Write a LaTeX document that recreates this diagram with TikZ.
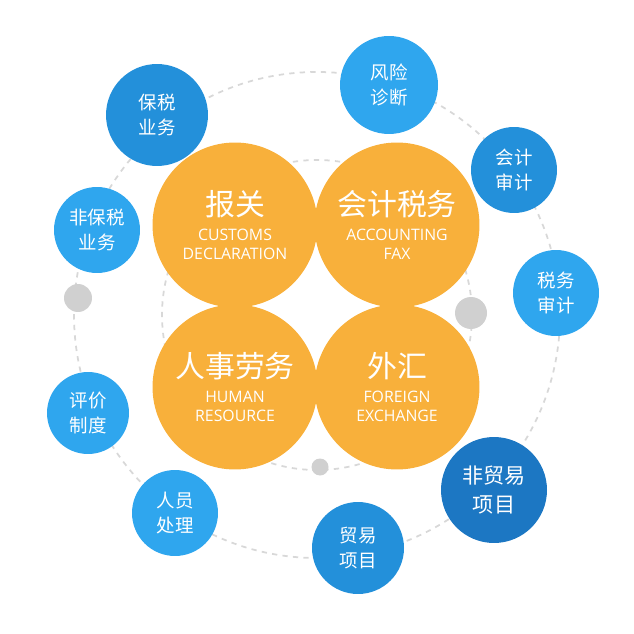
\documentclass[tikz,border=0pt]{standalone}
\usepackage{fontspec}
\setmainfont{Noto Sans CJK SC}
\newfontfamily\latin{Open Sans}
\definecolor{orangefill}{HTML}{F8B03B}
\definecolor{bluelight}{HTML}{2FA6EE}
\definecolor{bluemid}{HTML}{2390DA}
\definecolor{bluedark}{HTML}{1C77C3}
\definecolor{dashgray}{HTML}{D8D8D8}
\definecolor{dotgray}{HTML}{D0D0D0}
\tikzset{
  bigball/.style={circle, fill=orangefill, minimum size=3.3cm, text=white, align=center, inner sep=0pt},
  smallball/.style={circle, minimum size=#1, text=white, align=center, inner sep=0pt, font=\fontsize{10.5}{14}\selectfont},
  graydot/.style={circle, fill=dotgray, minimum size=#1, inner sep=0pt},
  ring/.style={dashgray, dashed, line width=1pt}
}
\newcommand{\cn}[1]{{\fontsize{17}{20}\selectfont #1}}
\newcommand{\en}[1]{{\latin\fontsize{9}{11}\selectfont #1}}
\begin{document}
\begin{tikzpicture}[x=0.02cm, y=-0.02cm]
\useasboundingbox (0,0) rectangle (634,634);

% dashed rings
\draw[ring] (317,315) circle (243);
\draw[ring] (317,315) circle (155);

% gray dots on the rings
\node[graydot=0.56cm] (dotleft) at (78,298) {};
\node[graydot=0.64cm] (dotright) at (471,313) {};
\node[graydot=0.34cm] (dotbottom) at (320,467) {};

% the four main circles
\node[bigball] (customs) at (235,225) {\cn{报关}\\[2pt]\en{CUSTOMS}\\[-1pt]\en{DECLARATION}};
\node[bigball] (account) at (397,225) {\cn{会计税务}\\[2pt]\en{ACCOUNTING}\\[-1pt]\en{FAX}};
\node[bigball] (human) at (235,387) {\cn{人事劳务}\\[2pt]\en{HUMAN}\\[-1pt]\en{RESOURCE}};
\node[bigball] (foreign) at (397,387) {\cn{外汇}\\[2pt]\en{FOREIGN}\\[-1pt]\en{EXCHANGE}};

% outer small circles
\node[smallball=1.96cm, fill=bluelight] (risk) at (389,85) {风险\\诊断};
\node[smallball=1.72cm, fill=bluemid] (audit) at (514,170) {会计\\审计};
\node[smallball=1.72cm, fill=bluelight] (taxaudit) at (556,293) {税务\\审计};
\node[smallball=2.12cm, fill=bluedark, font=\fontsize{12}{16}\selectfont] (nontrade) at (494,490) {非贸易\\项目};
\node[smallball=1.84cm, fill=bluemid] (trade) at (358,548) {贸易\\项目};
\node[smallball=1.72cm, fill=bluelight] (staff) at (175,513) {人员\\处理};
\node[smallball=1.64cm, fill=bluelight] (rating) at (88,413) {评价\\制度};
\node[smallball=1.72cm, fill=bluelight] (nonbond) at (97,230) {非保税\\业务};
\node[smallball=2.04cm, fill=bluemid] (bond) at (157,115) {保税\\业务};
\end{tikzpicture}
\end{document}
